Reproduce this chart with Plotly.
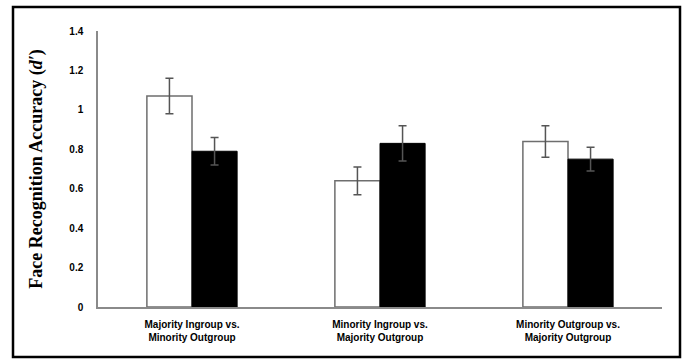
import plotly.graph_objects as go

categories = ["Majority Ingroup vs.<br>Minority Outgroup",
              "Minority Ingroup vs.<br>Majority Outgroup",
              "Minority Outgroup vs.<br>Majority Outgroup"]
white_vals = [1.07, 0.64, 0.84]
white_err = [0.09, 0.07, 0.08]
black_vals = [0.79, 0.83, 0.75]
black_err = [0.07, 0.09, 0.06]
y_ticks = [0, 0.2, 0.4, 0.6, 0.8, 1.0, 1.2, 1.4]
y_tick_text = ["0", "0.2", "0.4", "0.6", "0.8", "1", "1.2", "1.4"]

fig = go.Figure()
fig.add_trace(go.Bar(
    x=categories, y=white_vals,
    marker=dict(color="white", line=dict(color="#6e6e6e", width=1.5)),
    error_y=dict(type="data", array=white_err, color="#555555", thickness=1.5, width=4),
    showlegend=False))
fig.add_trace(go.Bar(
    x=categories, y=black_vals,
    marker=dict(color="black", line=dict(color="black", width=1)),
    error_y=dict(type="data", array=black_err, color="#555555", thickness=1.5, width=4),
    showlegend=False))

L, R, T, B = 98, 24, 31, 56
W, H = 686, 363
pw, ph = W - L - R, H - T - B

tickfont = dict(family="Liberation Sans, Arial, sans-serif", size=10, color="black")

fig.update_layout(
    width=W, height=H,
    margin=dict(l=L, r=R, t=T, b=B),
    paper_bgcolor="white", plot_bgcolor="white",
    barmode="group", bargap=0.52, bargroupgap=0,
    font=dict(family="Liberation Sans, Arial, sans-serif", size=10, color="black"),
    xaxis=dict(showline=True, linecolor="#8a8a8a", linewidth=1.5, ticks="",
               tickvals=categories, ticktext=["<b>" + c.replace("<br>", "</b><br><b>") + "</b>" for c in categories],
               tickfont=dict(family="Liberation Sans, Arial, sans-serif", size=10, color="black"),
               ticklabelstandoff=7),
    yaxis=dict(range=[0, 1.4], tickvals=y_ticks, ticktext=["<b>" + t + "</b>" for t in y_tick_text],
               showline=True, linecolor="#8a8a8a", linewidth=1.5, showgrid=False,
               zeroline=False, ticks="", ticklabelstandoff=11,
               tickfont=tickfont,
               title=dict(text="<b>Face Recognition Accuracy (<i>d′</i>)</b>", standoff=22,
                          font=dict(family="Liberation Serif, serif", size=18, color="black"))),
    shapes=[dict(type="rect", xref="paper", yref="paper",
                 x0=(13 - L) / pw, x1=(680 - L) / pw,
                 y0=-(357 - (T + ph)) / ph, y1=1 + (T - 7) / ph,
                 line=dict(color="black", width=2.5), fillcolor="rgba(0,0,0,0)")],
)

fig.write_html("out.html", config={"displayModeBar": False},
               post_script="document.body.style.margin='0';")
